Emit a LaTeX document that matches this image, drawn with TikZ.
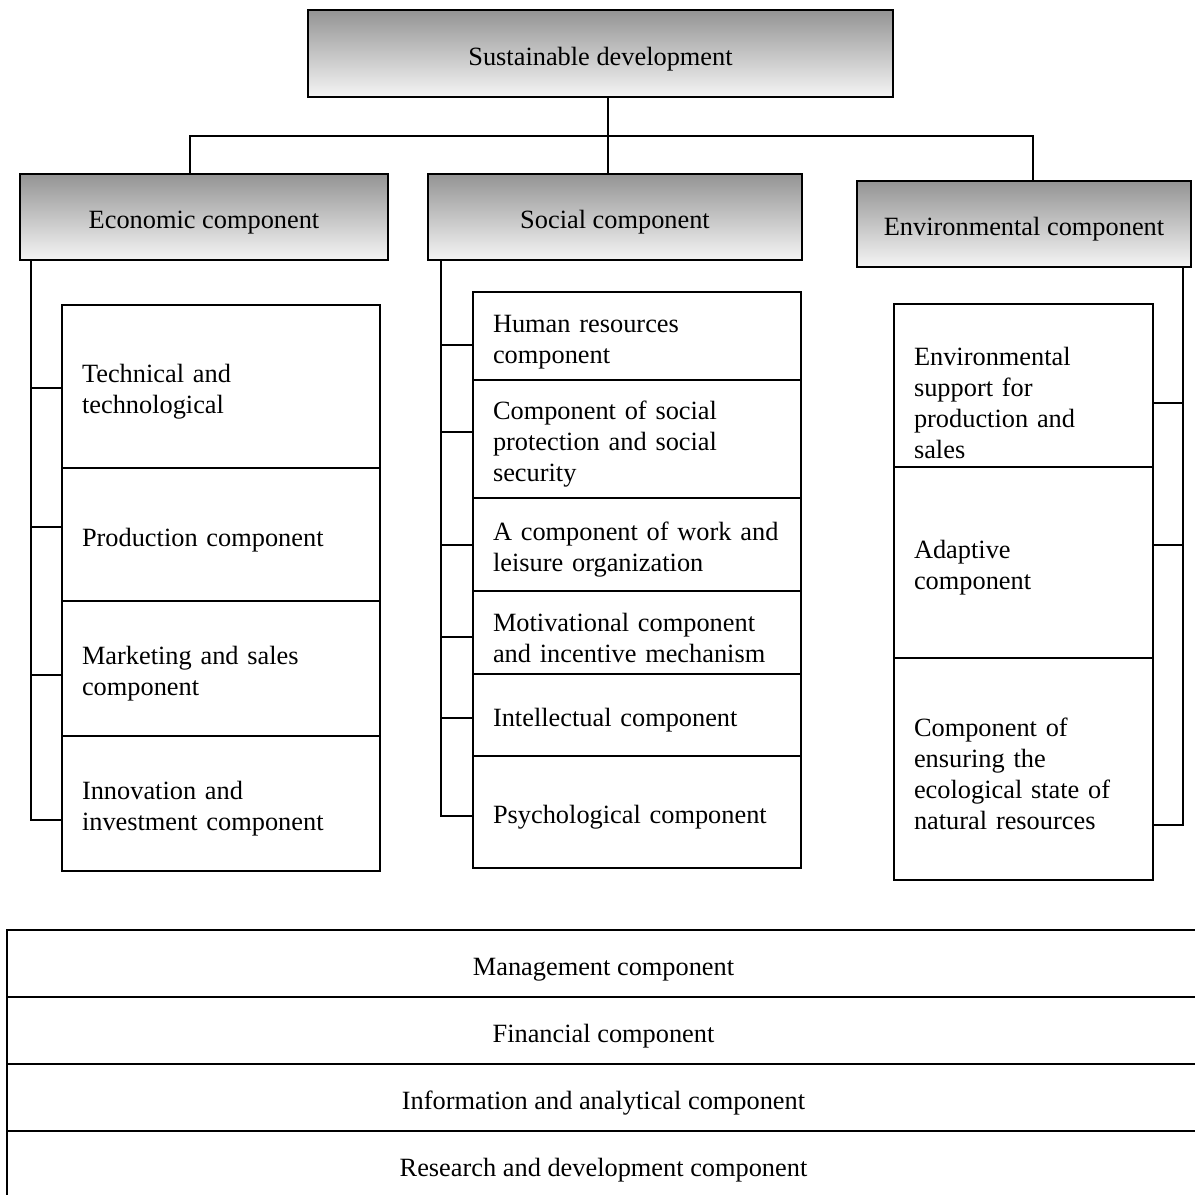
\documentclass[tikz,border=0pt]{standalone}
\usepackage{fontspec}
\setmainfont{Liberation Serif}
\usepackage{tikz}
\usetikzlibrary{calc}

\tikzset{
    every node/.style={font=\fontsize{15}{17.6}\selectfont, execute at begin node={\rule{0pt}{16.5pt}}},
    headbox/.style={draw, line width=0.8pt, top color=black!42, bottom color=black!4, minimum height=1.72cm, inner sep=0pt},
    itembox/.style={draw, line width=0.8pt, align=left, inner xsep=0.4cm, inner ysep=0pt, text width=#1},
    rowbox/.style={draw, line width=0.8pt, minimum width=23.86cm, minimum height=1.34cm, inner sep=0pt},
    link/.style={line width=0.8pt}
}

\begin{document}
\begin{tikzpicture}[x=0.02cm, y=-0.02cm]
\clip (0,0) rectangle (1195,1195);
\fill[white] (0,0) rectangle (1195,1195);

% top level
\node[headbox, minimum width=11.7cm, minimum height=1.74cm] (sd) at (600.5,53.5) {Sustainable development};
\node[headbox, minimum width=7.36cm] (econ) at (204,217) {Economic component};
\node[headbox, minimum width=7.48cm] (soc) at (615,217) {Social component};
\node[headbox, minimum width=6.68cm] (env) at (1024,224) {Environmental component};

\coordinate (hub) at (608,136);
\coordinate (eL) at (190,136);
\coordinate (eR) at (1033,136);
\draw[link] (sd.south -| hub) -- (soc.north -| hub);
\draw[link] (econ.north -| eL) -- (eL) -- (eR) -- (env.north -| eR);

% economic column
\coordinate (ebus) at (31,820);
\draw[link] (econ.south -| ebus) -- (ebus);
\foreach \n/\yc/\h/\s/\txt in {
    tech/386.5/3.26/1.5/{Technical and\\technological},
    prod/534.5/2.66/-7.5/{Production component},
    mark/668.5/2.70/6.5/{Marketing and sales\\component},
    innov/803.5/2.70/16.5/{Innovation and\\investment component}}{
    \node[itembox=5.56cm, minimum height=\h cm] (\n) at (221,\yc) {\txt};
    \draw[link] ($(\n.west)+(0,\s)$) -- ++(-31,0);
}

% social column
\coordinate (sbus) at (441,816);
\draw[link] (soc.south -| sbus) -- (sbus);
\foreach \n/\yc/\h/\s/\txt in {
    hr/336/1.76/9/{Human resources\\component},
    prot/439/2.36/-7/{Component of social\\protection and social\\security},
    work/544.5/1.86/0.5/{A component of work and\\leisure organization},
    motiv/632.5/1.66/4.5/{Motivational component\\and incentive mechanism},
    intel/715/1.64/3/{Intellectual component},
    psych/812/2.24/4/{Psychological component}}{
    \node[itembox=5.76cm, minimum height=\h cm] (\n) at (637,\yc) {\txt};
    \draw[link] ($(\n.west)+(0,\s)$) -- ++(-32,0);
}

% environmental column
\coordinate (nbus) at (1183,825);
\draw[link] (env.south -| nbus) -- (nbus);
\foreach \n/\yc/\h/\s/\txt in {
    sup/385.5/3.26/17.5/{\rule{0pt}{30pt}Environmental\\support for\\production and\\sales},
    adapt/562.5/3.82/-17.5/{Adaptive\\component},
    ensure/769/4.44/56/{Component of\\ensuring the\\ecological state of\\natural resources}}{
    \node[itembox=4.38cm, minimum height=\h cm] (\n) at (1023.5,\yc) {\txt};
    \draw[link] ($(\n.east)+(0,\s)$) -- ++(30,0);
}

% common components
\node[rowbox] (mgmt) at (603.5,963.5) {Management component};
\node[rowbox] (fin) at (603.5,1030.5) {Financial component};
\node[rowbox] (info) at (603.5,1097.5) {Information and analytical component};
\node[rowbox] (rnd) at (603.5,1164.5) {Research and development component};
\end{tikzpicture}
\end{document}
